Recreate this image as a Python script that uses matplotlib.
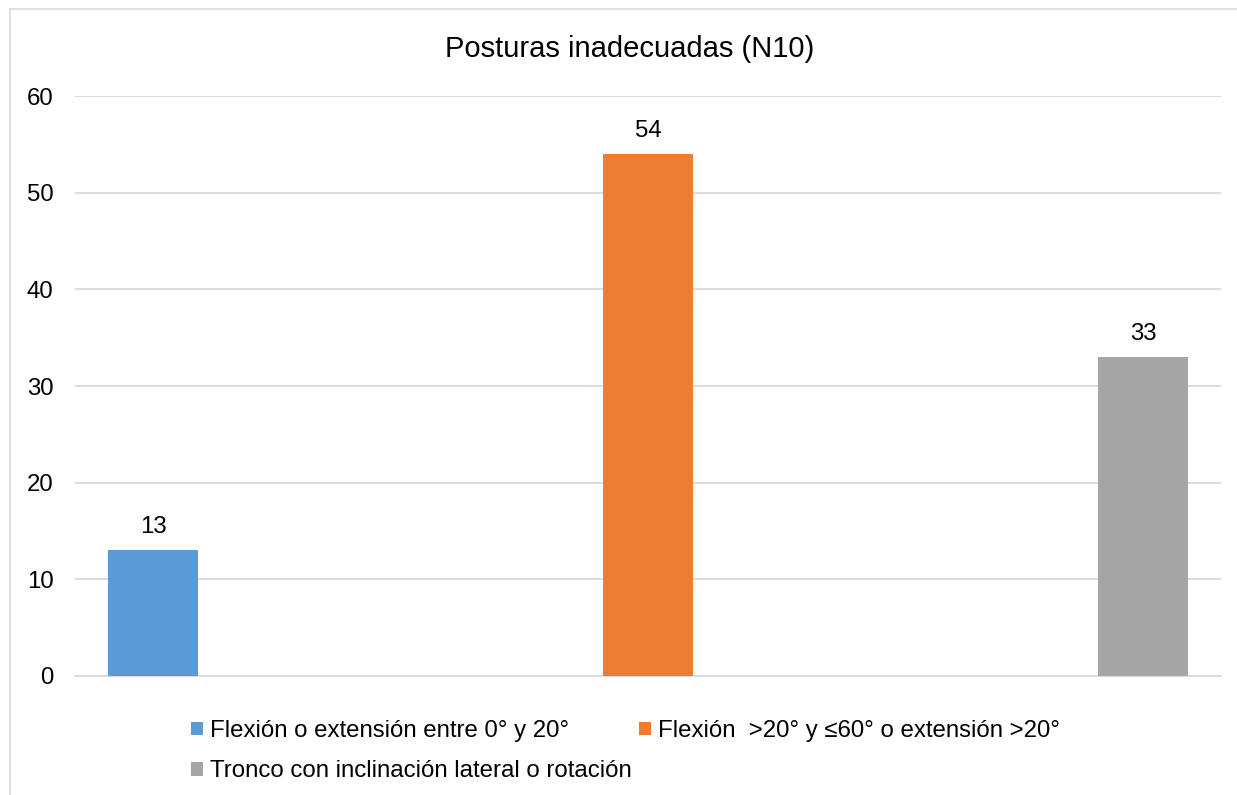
import matplotlib
matplotlib.use("Agg")
import matplotlib.pyplot as plt
from matplotlib.patches import Patch
from matplotlib.lines import Line2D

plt.rcParams['font.family'] = ['Liberation Sans', 'DejaVu Sans']

title = "Posturas inadecuadas (N10)"
series_names = [
    "Flexión o extensión entre 0° y 20°",
    "Flexión  >20° y ≤60° o extensión >20°",
    "Tronco con inclinación lateral o rotación",
]
values = [13, 54, 33]
colors = ["#5B9BD5", "#ED7D31", "#A5A5A5"]
yticks = [0, 10, 20, 30, 40, 50, 60]

W, H = 1237, 795
fig = plt.figure(figsize=(W / 100, H / 100), dpi=100)
fig.patch.set_facecolor("white")

# outer chart border (left and top edges)
border = "#D9D9D9"
fig.add_artist(Line2D([10 / W, 10 / W], [0, 1 - 9 / H], transform=fig.transFigure,
                      color=border, lw=1.2))
fig.add_artist(Line2D([10 / W, 1], [1 - 9 / H, 1 - 9 / H], transform=fig.transFigure,
                      color=border, lw=1.2))

ax = fig.add_axes([75 / W, (H - 676) / H, (1221 - 75) / W, (676 - 96) / H])
x = list(range(len(values)))
bw = 90 / 495
bars = ax.bar(x, values, width=bw, color=colors, zorder=3)

ax.set_xlim(-(153 - 75) / 495, 2 + (1221 - 1143) / 495)
ax.set_ylim(0, 60)
ax.set_yticks(yticks)
ax.set_yticklabels([str(t) for t in yticks], fontsize=17.3)
ax.set_xticks([])
ax.grid(axis="y", color="#D9D9D9", lw=1.3, zorder=0)
for s in ["left", "right", "top"]:
    ax.spines[s].set_visible(False)
ax.spines["bottom"].set_color("#D9D9D9")
ax.spines["bottom"].set_linewidth(1.3)
ax.tick_params(axis="y", length=0, pad=15.5)

for xi, v in zip(x, values):
    ax.annotate(str(v), (xi, v), xytext=(0, 9), textcoords="offset points",
                ha="center", va="bottom", fontsize=17.3)

fig.text(630 / W, 1 - 49 / H, title, ha="center", va="center", fontsize=21)

handles = [Patch(facecolor=c, edgecolor="none") for c in colors]
order = [0, 2, 1]
leg = fig.legend([handles[i] for i in order], [series_names[i] for i in order],
                 ncol=2, loc="upper left", bbox_to_anchor=(191 / W, 1 - 720 / H),
                 frameon=False, fontsize=17.3, handlelength=0.5, handleheight=0.5,
                 handletextpad=0.3, columnspacing=0.3, labelspacing=0.76,
                 borderpad=0, borderaxespad=0)

fig.savefig("out.png", dpi=100, facecolor="white")
